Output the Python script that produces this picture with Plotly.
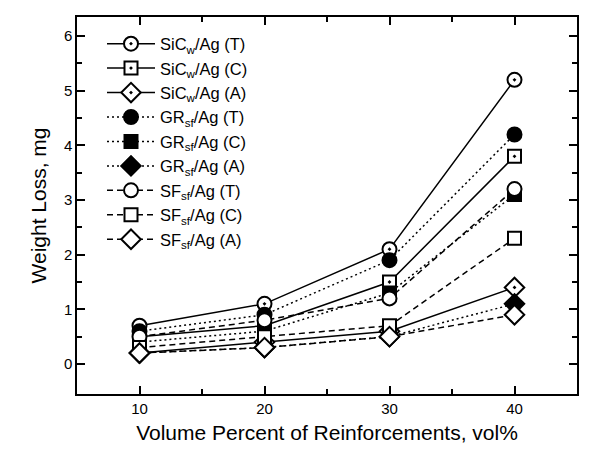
import plotly.graph_objects as go

vol = [10, 20, 30, 40]

sicw_T = [0.7, 1.1, 2.1, 5.2]
sicw_C = [0.5, 0.7, 1.5, 3.8]
sicw_A = [0.2, 0.4, 0.6, 1.4]
gr_T = [0.6, 0.9, 1.9, 4.2]
gr_C = [0.4, 0.6, 1.3, 3.1]
gr_A = [0.2, 0.3, 0.5, 1.1]
sf_T = [0.5, 0.8, 1.2, 3.2]
sf_C = [0.3, 0.5, 0.7, 2.3]
sf_A = [0.2, 0.3, 0.5, 0.9]

names = [
    "SiC<sub>w</sub>/Ag (T)", "SiC<sub>w</sub>/Ag (C)", "SiC<sub>w</sub>/Ag (A)",
    "GR<sub>sf</sub>/Ag (T)", "GR<sub>sf</sub>/Ag (C)", "GR<sub>sf</sub>/Ag (A)",
    "SF<sub>sf</sub>/Ag (T)", "SF<sub>sf</sub>/Ag (C)", "SF<sub>sf</sub>/Ag (A)",
]
series = [sicw_T, sicw_C, sicw_A, gr_T, gr_C, gr_A, sf_T, sf_C, sf_A]
symbols = ["circle-dot", "square-dot", "diamond-dot",
           "circle", "square", "diamond",
           "circle", "square", "diamond"]
fills = ["white"] * 3 + ["black"] * 3 + ["white"] * 3
dashes = ["solid"] * 3 + ["2px,3px"] * 3 + ["6px,4px"] * 3
sizes = [14, 13, 15, 14, 13, 15, 14, 13, 15]

fig = go.Figure()
for nm, ys, sym, fc, dsh, sz in zip(names, series, symbols, fills, dashes, sizes):
    fig.add_trace(go.Scatter(
        x=vol, y=ys, name=nm, mode="lines+markers",
        line=dict(color="black", width=1.5, dash=dsh),
        marker=dict(symbol=sym, size=sz, color=fc,
                    line=dict(color="black", width=2)),
    ))

axis_common = dict(
    showline=True, linecolor="black", linewidth=1.5, mirror="ticks",
    ticks="inside", ticklen=8, tickwidth=1.5, tickcolor="black",
    showgrid=False, zeroline=False,
    tickfont=dict(family="Liberation Sans, Arial", size=15, color="black"),
)

fig.update_layout(
    width=594, height=458,
    margin=dict(l=77, r=17, t=17, b=64),
    paper_bgcolor="white", plot_bgcolor="white",
    font=dict(family="Liberation Sans, Arial", color="black"),
    xaxis=dict(range=[5, 45], tickvals=[10, 20, 30, 40],
               minor=dict(tickvals=[15, 25, 35], ticks="inside", ticklen=5, tickwidth=1.5, tickcolor="black"),
               title=dict(text="Volume Percent of Reinforcements, vol%", font=dict(size=21), standoff=10),
               **axis_common),
    yaxis=dict(range=[-0.55, 6.35], tickvals=[0, 1, 2, 3, 4, 5, 6],
               minor=dict(tickvals=[0.5, 1.5, 2.5, 3.5, 4.5, 5.5], ticks="inside", ticklen=5, tickwidth=1.5, tickcolor="black"),
               title=dict(text="Weight Loss, mg", font=dict(size=21), standoff=12),
               **axis_common),
    legend=dict(x=0.05, y=0.975, xanchor="left", yanchor="top",
                bgcolor="rgba(0,0,0,0)", itemwidth=48,
                font=dict(size=16.5, family="Liberation Sans, Arial"),
                tracegroupgap=0),
    showlegend=True,
)

fig.write_html("out.html")
